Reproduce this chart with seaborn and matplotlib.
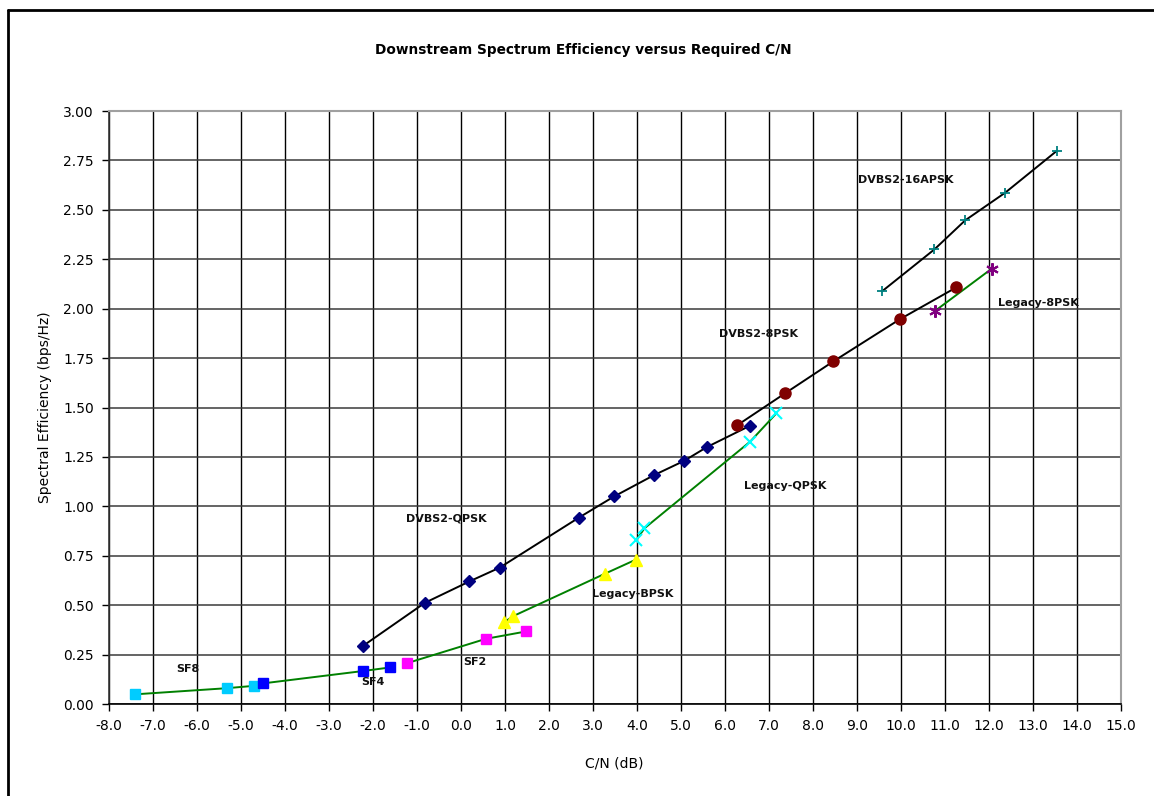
import matplotlib
matplotlib.use("Agg")
import matplotlib.pyplot as plt
from matplotlib.lines import Line2D
from matplotlib.ticker import MultipleLocator, FormatStrFormatter
import seaborn as sns
import pandas as pd

# Daten
sf8_x = [-7.40, -5.32, -4.70]
sf8_y = [0.049, 0.080, 0.092]
sf4_x = [-4.51, -2.22, -1.61]
sf4_y = [0.104, 0.167, 0.185]
sf2_x = [-1.22, 0.57, 1.48]
sf2_y = [0.207, 0.330, 0.367]
bpsk_x = [0.98, 1.18, 3.28, 3.98]
bpsk_y = [0.413, 0.444, 0.660, 0.731]
lqpsk_x = [3.98, 4.17, 6.57, 7.17]
lqpsk_y = [0.828, 0.889, 1.327, 1.471]
l8psk_x = [10.77, 12.06]
l8psk_y = [1.988, 2.202]
qpsk_x = [-2.22, -0.82, 0.19, 0.88, 2.68, 3.48, 4.38, 5.07, 5.59, 6.57]
qpsk_y = [0.295, 0.512, 0.620, 0.690, 0.943, 1.050, 1.157, 1.230, 1.300, 1.408]
psk8_x = [6.27, 7.36, 8.46, 9.97, 11.26]
psk8_y = [1.409, 1.571, 1.733, 1.946, 2.108]
apsk_x = [9.57, 10.76, 11.46, 12.37, 13.55]
apsk_y = [2.088, 2.300, 2.447, 2.587, 2.800]

serien = ["SF8", "SF4", "SF2", "Legacy-BPSK", "Legacy-QPSK", "Legacy-8PSK",
          "DVBS2-QPSK", "DVBS2-8PSK", "DVBS2-16APSK"]
werte = [(sf8_x, sf8_y), (sf4_x, sf4_y), (sf2_x, sf2_y), (bpsk_x, bpsk_y),
         (lqpsk_x, lqpsk_y), (l8psk_x, l8psk_y), (qpsk_x, qpsk_y),
         (psk8_x, psk8_y), (apsk_x, apsk_y)]

# Stil je Serie: Linienfarbe, Marker, Markerfarbe, Markergroesse, Kantenbreite
stile = {
    "SF8": ("#008000", "s", "#00CCFF", 7.5, 1.0),
    "SF4": ("#008000", "s", "#0000FF", 7.5, 1.0),
    "SF2": ("#008000", "s", "#FF00FF", 7.5, 1.0),
    "Legacy-BPSK": ("#008000", "^", "#FFFF00", 8.5, 1.0),
    "Legacy-QPSK": ("#008000", "x", "#00FFFF", 8, 1.5),
    "Legacy-8PSK": ("#008000", (6, 2, 0), "#800080", 9, 1.5),
    "DVBS2-QPSK": ("black", "D", "#000080", 6.5, 1.0),
    "DVBS2-8PSK": ("black", "o", "#800000", 8, 1.0),
    "DVBS2-16APSK": ("black", "+", "#008080", 7, 1.3),
}

# Beschriftungen im Diagramm
label_text = ["DVBS2-16APSK", "Legacy-8PSK", "DVBS2-8PSK", "Legacy-QPSK", "DVBS2-QPSK",
              "Legacy-BPSK", "SF2", "SF4", "SF8"]
label_x = [9.03, 12.2, 5.86, 6.43, -1.24, 2.98, 0.05, -2.26, -6.48]
label_y = [2.65, 2.03, 1.87, 1.105, 0.94, 0.555, 0.215, 0.11, 0.175]

frames = []
for name, (xs, ys) in zip(serien, werte):
    frames.append(pd.DataFrame({"CN": xs, "SE": ys, "Serie": name}))
df = pd.concat(frames, ignore_index=True)

sns.set_style("white")
plt.rcParams["font.family"] = ["DejaVu Sans"]
plt.rcParams["text.color"] = "black"
plt.rcParams["axes.labelcolor"] = "black"
plt.rcParams["xtick.color"] = "black"
plt.rcParams["ytick.color"] = "black"

fig = plt.figure(figsize=(11.54, 7.96), dpi=100)
ax = fig.add_axes([109 / 1154, 1 - 704 / 796, 1012 / 1154, 593 / 796])

for name in serien:
    farbe, marker, mfarbe, msize, mew = stile[name]
    sub = df[df["Serie"] == name]
    sns.lineplot(data=sub, x="CN", y="SE", ax=ax, color=farbe, linewidth=1.4,
                 estimator=None, sort=True, marker=marker, markersize=msize,
                 markerfacecolor=mfarbe, markeredgecolor=mfarbe, markeredgewidth=mew,
                 zorder=3)

for t, x, y in zip(label_text, label_x, label_y):
    ax.text(x, y, t, fontsize=8, fontweight="bold", ha="left", va="center", color="#111111")

ax.set_xlim(-8, 15)
ax.set_ylim(0, 3)
ax.xaxis.set_major_locator(MultipleLocator(1))
ax.yaxis.set_major_locator(MultipleLocator(0.25))
ax.xaxis.set_major_formatter(FormatStrFormatter("%.1f"))
ax.yaxis.set_major_formatter(FormatStrFormatter("%.2f"))
ax.tick_params(axis="both", direction="out", length=5, width=1, color="black",
               labelsize=10, labelcolor="black", bottom=True, left=True, pad=6)

ax.grid(axis="x", color="black", linewidth=1.0, zorder=0)
ax.grid(axis="y", color="#3a3a3a", linewidth=1.1, zorder=0)
ax.set_axisbelow(True)

for s in ["top", "right"]:
    ax.spines[s].set_color("#a0a0a0")
    ax.spines[s].set_linewidth(1.5)
ax.spines["left"].set_color("#333333")
ax.spines["bottom"].set_color("black")
ax.spines["left"].set_linewidth(1.2)
ax.spines["bottom"].set_linewidth(1.2)

ax.set_xlabel("C/N (dB)", fontsize=10)
ax.set_ylabel("Spectral Efficiency (bps/Hz)", fontsize=10)
ax.xaxis.set_label_coords(0.499, -0.101)
ax.xaxis.label.set_va("center")
ax.yaxis.set_label_coords(-0.063, 0.5)
ax.yaxis.label.set_va("center")

fig.text(583 / 1154, 1 - 50 / 796, "Downstream Spectrum Efficiency versus Required C/N",
         ha="center", va="center", fontsize=9.8, fontweight="bold", color="black")

# Rahmen um das Diagramm (nur links und oben sichtbar)
fig.add_artist(Line2D([8 / 1154, 8 / 1154], [0, 1 - 10 / 796], transform=fig.transFigure,
                      color="black", linewidth=2))
fig.add_artist(Line2D([8 / 1154, 1], [1 - 10 / 796, 1 - 10 / 796], transform=fig.transFigure,
                      color="black", linewidth=2))

fig.savefig("out.png", dpi=100)
